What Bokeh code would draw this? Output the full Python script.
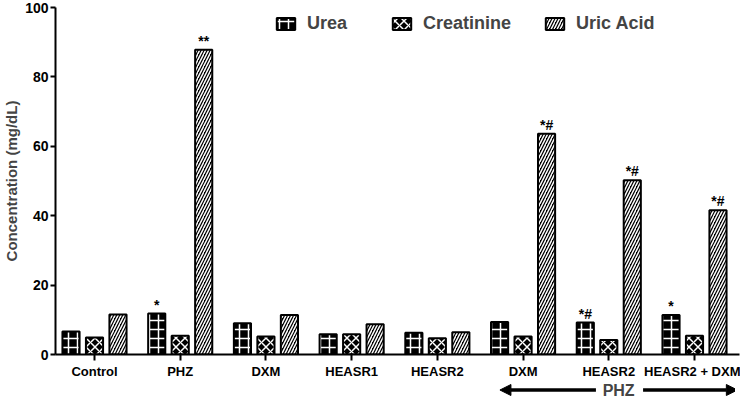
from bokeh.plotting import figure
from bokeh.layouts import column
from bokeh.models import (ColumnDataSource, FixedTicker, Legend, LegendItem, Label,
                          Arrow, NormalHead, Range1d)
from bokeh.core.properties import value
from bokeh.embed import file_html
from bokeh.resources import INLINE

# ---- data ----
groups = ["Control", "PHZ", "DXM", "HEASR1", "HEASR2", "DXM", "HEASR2", "HEASR2 + DXM"]
urea = [6.6, 11.8, 9.0, 5.8, 6.3, 9.4, 9.2, 11.4]
creatinine = [4.9, 5.4, 5.2, 5.8, 4.7, 5.2, 4.2, 5.4]
uric_acid = [11.5, 87.8, 11.4, 8.7, 6.4, 63.6, 50.2, 41.6]
urea_marks = ["", "*", "", "", "", "", "*#", "*"]
creatinine_marks = ["", "", "", "", "", "", "", ""]
uric_marks = ["", "**", "", "", "", "*#", "*#", "*#"]
series_names = ["Urea", "Creatinine", "Uric Acid"]
y_ticks = [0, 20, 40, 60, 80, 100]
bracket_label = "PHZ"

FONT = "Liberation Sans"
XR = Range1d(-0.455, 7.525)
FH = 347

p = figure(frame_width=684, frame_height=FH, output_backend="svg", toolbar_location=None,
           x_range=XR, y_range=Range1d(0, 100),
           min_border_left=50, min_border_right=1, min_border_top=7, min_border_bottom=0)
p.outline_line_color = None
p.grid.visible = False
p.background_fill_color = "white"

idx = list(range(len(groups)))
offset = 0.274
bw = 0.2
patterns = ["cross", "diagonal_cross", "right_diagonal_line"]
scales = [9, 9, 6]
values = [urea, creatinine, uric_acid]
marks = [urea_marks, creatinine_marks, uric_marks]
renderers = []
for k, (vals, pat, sc, mk) in enumerate(zip(values, patterns, scales, marks)):
    xs = [i + (k - 1) * offset for i in idx]
    src = ColumnDataSource(dict(x=xs, top=vals, mark=mk))
    r = p.vbar(x="x", top="top", width=bw, source=src, fill_color="black",
               line_color="black", line_width=2, hatch_pattern=pat,
               hatch_color="white", hatch_scale=sc, hatch_weight=1.5)
    renderers.append(r)
    p.text(x="x", y="top", text="mark", source=src, text_align="center",
           text_baseline="bottom", y_offset=-1, text_font=value(FONT),
           text_font_style="bold", text_font_size="14px", text_color="black")

legend = Legend(items=[LegendItem(label=n, renderers=[r]) for n, r in zip(series_names, renderers)],
                orientation="horizontal", location=(219, FH - 27), border_line_color=None,
                background_fill_alpha=0, padding=0, margin=0, spacing=32,
                glyph_width=23, glyph_height=15, label_height=15, label_width=51,
                label_standoff=10,
                label_text_font=FONT, label_text_font_style="bold",
                label_text_font_size="18px", label_text_baseline="middle")
p.add_layout(legend)

# axes
for ax in (p.xaxis[0], p.yaxis[0]):
    ax.axis_line_width = 2
    ax.axis_line_color = "black"
    ax.major_tick_line_width = 2
    ax.major_tick_line_color = "black"
    ax.minor_tick_line_color = None
    ax.major_tick_in = 0
    ax.major_label_text_font = FONT
    ax.major_label_text_font_style = "bold"
    ax.major_label_text_font_size = "14px"
    ax.major_label_text_color = "black"

p.yaxis.ticker = FixedTicker(ticks=y_ticks)
p.yaxis.major_tick_out = 5
p.yaxis.major_label_standoff = 2
p.yaxis.axis_label = "Concentration (mg/dL)"
p.yaxis.axis_label_text_font = FONT
p.yaxis.axis_label_text_font_style = "bold"
p.yaxis.axis_label_text_font_size = "15px"
p.yaxis.axis_label_standoff = 2

p.xaxis.ticker = FixedTicker(ticks=idx)
p.xaxis.major_label_overrides = {i: g for i, g in zip(idx, groups)}
p.xaxis.major_label_text_font_size = "13px"
p.xaxis.major_tick_out = 6
p.xaxis.major_label_standoff = 3

# PHZ bracket strip below the axis
p2 = figure(frame_width=684, frame_height=17, output_backend="svg", toolbar_location=None,
            x_range=XR, y_range=Range1d(0, 1), x_axis_location=None, y_axis_location=None,
            min_border_left=50, min_border_right=1, min_border_top=0, min_border_bottom=0)
p2.outline_line_color = None
p2.grid.visible = False
ybr = 0.5
p2.add_layout(Arrow(x_start=5.85, y_start=ybr, x_end=4.73, y_end=ybr,
                    line_width=3.5, line_color="black",
                    end=NormalHead(size=11, fill_color="black", line_color="black")))
p2.add_layout(Arrow(x_start=6.40, y_start=ybr, x_end=7.5, y_end=ybr,
                    line_width=3.5, line_color="black",
                    end=NormalHead(size=11, fill_color="black", line_color="black")))
p2.add_layout(Label(x=6.115, y=ybr, text=bracket_label, text_align="center",
                    text_baseline="middle", text_font=FONT, text_font_style="bold",
                    text_font_size="16px"))

layout = column(p, p2, spacing=0)
open("out.html", "w").write(file_html(layout, INLINE))
